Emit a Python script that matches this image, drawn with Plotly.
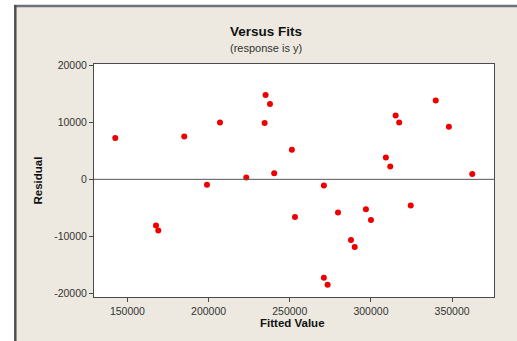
import plotly.graph_objects as go

fitted = [142500, 185000, 207000, 235100, 237800, 234500, 251300, 240400, 223200,
          199000, 167600, 169000, 253200, 339900, 315200, 317400, 348000, 309200,
          311900, 362400, 271000, 279700, 296900, 300000, 324500, 287700, 290000,
          271000, 273300]
residual = [7250, 7530, 10000, 14800, 13230, 9890, 5190, 1090, 320,
            -970, -8130, -9010, -6600, 13870, 11230, 10000, 9240, 3840,
            2250, 920, -1090, -5840, -5250, -7130, -4610, -10650, -11880,
            -17280, -18510]

x_ticks = [150000, 200000, 250000, 300000, 350000]
y_ticks = [-20000, -10000, 0, 10000, 20000]

title = "Versus Fits"
subtitle = "(response is y)"
x_title = "Fitted Value"
y_title = "Residual"

W, H = 517, 341
L, R, T, B = 94, 23, 64, 44
pw, ph = W - L - R, H - T - B

def px_x(p):
    return (p - L) / pw

def px_y(p):
    return (H - B - p) / ph

fig = go.Figure()
fig.add_trace(go.Scatter(
    x=fitted, y=residual, mode="markers",
    marker=dict(color="#ee0000", size=6, line=dict(width=0)),
    hoverinfo="x+y", showlegend=False,
))

axis_common = dict(
    showgrid=False, zeroline=False, showline=True, linecolor="#4a4a4a",
    linewidth=1, mirror=True, ticks="outside", ticklen=4, tickcolor="#4a4a4a",
    tickfont=dict(family="Liberation Sans, Arial, sans-serif", size=10.5, color="#333333"),
)

fig.update_xaxes(range=[129400, 375800], tickvals=x_ticks,
                 ticktext=[str(v) for v in x_ticks], **axis_common)
fig.update_yaxes(range=[-20670, 20260], tickvals=y_ticks,
                 ticktext=[str(v) for v in y_ticks], **axis_common)

shapes = [
    # zero reference line
    dict(type="line", xref="paper", yref="y", x0=0, x1=1, y0=0, y1=0,
         line=dict(color="#555555", width=1), layer="above"),
    # white strips outside the window frame
    dict(type="rect", xref="paper", yref="paper", x0=px_x(0), x1=px_x(14),
         y0=px_y(H), y1=px_y(0), fillcolor="white", line=dict(width=0)),
    dict(type="rect", xref="paper", yref="paper", x0=px_x(0), x1=px_x(W),
         y0=px_y(5), y1=px_y(0), fillcolor="white", line=dict(width=0)),
    # frame lines
    dict(type="line", xref="paper", yref="paper", x0=px_x(14), x1=px_x(W),
         y0=px_y(6), y1=px_y(6), line=dict(color="#6a727c", width=2.5)),
    dict(type="line", xref="paper", yref="paper", x0=px_x(15.3), x1=px_x(15.3),
         y0=px_y(5), y1=px_y(H), line=dict(color="#505050", width=2.5)),
]

annotations = [
    dict(text="<b>" + title + "</b>", xref="paper", yref="paper",
         x=px_x(266), y=px_y(32), xanchor="center", yanchor="middle", showarrow=False,
         font=dict(family="Liberation Sans, Arial, sans-serif", size=13.5, color="#111111")),
    dict(text=subtitle, xref="paper", yref="paper",
         x=px_x(266), y=px_y(47.5), xanchor="center", yanchor="middle", showarrow=False,
         font=dict(family="Liberation Sans, Arial, sans-serif", size=11, color="#333333")),
    dict(text="<b>" + x_title + "</b>", xref="paper", yref="paper",
         x=px_x(292.7), y=px_y(323), xanchor="center", yanchor="middle", showarrow=False,
         font=dict(family="Liberation Sans, Arial, sans-serif", size=11.5, color="#111111")),
    dict(text="<b>" + y_title + "</b>", xref="paper", yref="paper",
         x=px_x(37.5), y=px_y(181), xanchor="center", yanchor="middle", showarrow=False,
         textangle=-90,
         font=dict(family="Liberation Sans, Arial, sans-serif", size=11.5, color="#111111")),
]

fig.update_layout(
    width=W, height=H, autosize=False,
    margin=dict(l=L, r=R, t=T, b=B, pad=0),
    paper_bgcolor="#ede9e0", plot_bgcolor="white",
    shapes=shapes, annotations=annotations,
)

fig.write_html("out.html", config={"displayModeBar": False})
